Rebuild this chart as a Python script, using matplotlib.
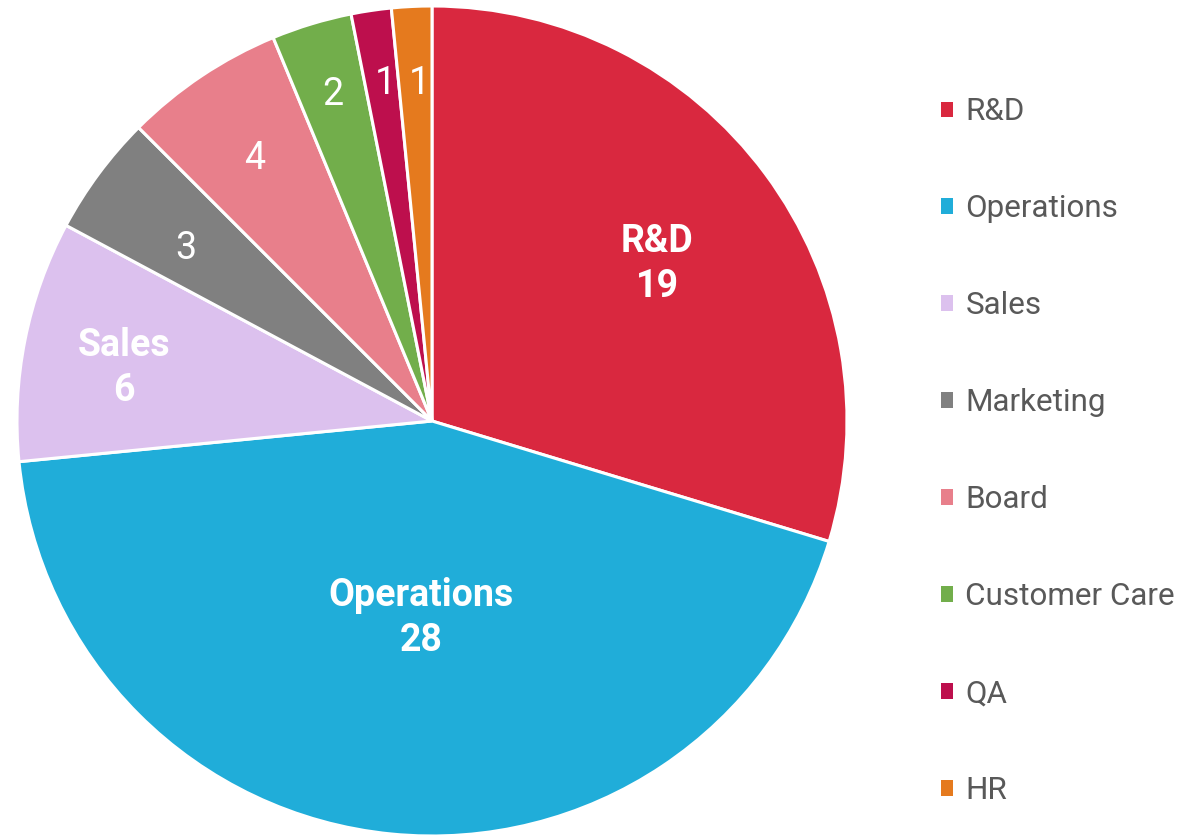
import matplotlib
matplotlib.use("Agg")
import matplotlib.pyplot as plt
import numpy as np

categories = ["R&D", "Operations", "Sales", "Marketing", "Board", "Customer Care", "QA", "HR"]
values = [19, 28, 6, 3, 4, 2, 1, 1]
colors = ["#D9283F", "#20ADD9", "#DCC1EE", "#808080", "#E87F8B", "#72AE4B", "#BD0F4D", "#E57A1E"]
bold_labels = [True, True, True, False, False, False, False, False]
label_dist = [0.661, 0.475, 0.753, 0.725, 0.762, 0.822, 0.82, 0.815]
label_shift = [-1.7, 2.4, 1.45, 1.56, 0.3, 0.0, -0.6, -0.6]

plt.rcParams['font.family'] = ['Roboto', 'DejaVu Sans']

fig = plt.figure(figsize=(11.83, 8.35), dpi=100)
R = 415
cx, cy = 432, 835 - 421
ax = fig.add_axes([(cx - R) / 1183, (cy - R) / 835, 2 * R / 1183, 2 * R / 835])
wedges, _ = ax.pie(values, colors=colors, startangle=90, counterclock=False, radius=1,
                   wedgeprops=dict(edgecolor="white", linewidth=2.2))
ax.set_xlim(-1, 1)
ax.set_ylim(-1, 1)
ax.set_aspect("equal")
ax.axis("off")

total = sum(values)
cum = 0
for i, v in enumerate(values):
    mid = 90 - 360 * (cum + v / 2) / total + label_shift[i]
    cum += v
    d = label_dist[i]
    x, y = d * np.cos(np.radians(mid)), d * np.sin(np.radians(mid))
    if bold_labels[i]:
        ax.text(x, y, f"{categories[i]}\n{v}", ha="center", va="center", color="white",
                fontsize=27, fontweight="bold", linespacing=1.27)
    else:
        ax.text(x, y, f"{v}", ha="center", va="center", color="white",
                fontsize=27, fontweight="normal")

leg = fig.legend(wedges, categories, loc="upper left", bbox_to_anchor=(941 / 1183, 1 - 97.5 / 835),
                 frameon=False, fontsize=22.6, handlelength=0.38, handleheight=0.38,
                 handletextpad=0.4, labelspacing=2.165, borderpad=0, borderaxespad=0)
for t in leg.get_texts():
    t.set_color("#595959")
    t.set_fontweight("normal")
for h in leg.legend_handles:
    h.set_edgecolor("none")

fig.savefig("out.png", dpi=100)
